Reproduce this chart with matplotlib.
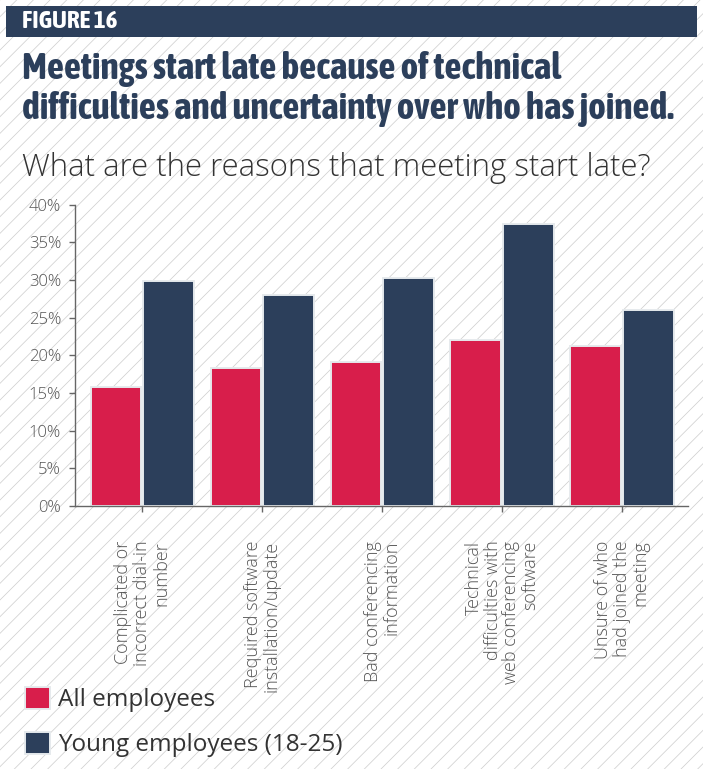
import matplotlib
matplotlib.use("Agg")
import matplotlib.pyplot as plt
from matplotlib.patches import Rectangle
from matplotlib import font_manager as fm
from matplotlib import patheffects as pe
import numpy as np

plt.rcParams['hatch.linewidth'] = 0.55
plt.rcParams['hatch.color'] = '#d0d0d0'

categories = [
    "Complicated or\nincorrect dial-in\nnumber",
    "Required software\ninstallation/update",
    "Bad conferencing\ninformation",
    "Technical\ndifficulties with\nweb conferencing\nsoftware",
    "Unsure of who\nhad joined the\nmeeting",
]
all_employees = [15.8, 18.3, 19.1, 22.0, 21.3]
young_employees = [29.9, 28.0, 30.3, 37.4, 26.0]
series_names = ["All employees", "Young employees (18-25)"]
yticks = [0, 5, 10, 15, 20, 25, 30, 35, 40]
title_lines = ["Meetings start late because of technical",
               "difficulties and uncertainty over who has joined."]
subtitle = "What are the reasons that meeting start late?"

RED = '#d81e4b'
NAVY = '#2c3f5b'
GREY = '#555555'


def wnum(w):
    if isinstance(w, (int, float)):
        return w
    return {'bold': 700, 'semibold': 600, 'demibold': 600, 'heavy': 800,
            'black': 900, 'medium': 500}.get(str(w), 400)


# choose a narrow (preferably bold) font if one is installed
narrow = None
bold_found = False
cands = [f for f in fm.fontManager.ttflist if ('Condensed' in f.name or 'Narrow' in f.name)]
bold_c = [f for f in cands if wnum(f.weight) >= 600]
if bold_c:
    narrow = dict(family=bold_c[0].name, stretch='normal')
    bold_found = True
elif cands:
    narrow = dict(family=cands[0].name, stretch='normal')
if narrow is None:
    dv = [f for f in fm.fontManager.ttflist if f.name == 'DejaVu Sans'
          and str(f.stretch) in ('condensed', 'semi-condensed')]
    if dv:
        narrow = dict(family='DejaVu Sans', stretch='condensed')
        bold_found = True
if narrow is None:
    narrow = dict(family='Lato', stretch='normal')
    bold_found = True

W, H = 703, 769
fig = plt.figure(figsize=(W / 100, H / 100), dpi=100)
fig.patch.set_facecolor('white')
renderer = fig.canvas.get_renderer()

bg = Rectangle((0, 0), 1, 1, transform=fig.transFigure, facecolor='white',
               edgecolor='#d0d0d0', hatch='//', linewidth=0, zorder=-10)
fig.patches.append(bg)

hdr = Rectangle((6 / W, 1 - 37 / H), (697 - 6) / W, 31 / H, transform=fig.transFigure,
                facecolor=NAVY, edgecolor='none', zorder=1)
fig.patches.append(hdr)


def fit_text(x, y, s, target_w, size, **kw):
    t = fig.text(x, y, s, fontsize=size, **kw)
    w = t.get_window_extent(renderer).width
    t.set_fontsize(size * target_w / w)
    return t


title_fx = [] if bold_found else [pe.withStroke(linewidth=1.3, foreground=NAVY)]
hdr_fx = [] if bold_found else [pe.withStroke(linewidth=0.9, foreground='white')]

fit_text(22 / W, 1 - 28 / H, "FIGURE 16", 95, 13.5, color='white', fontweight='bold',
         va='baseline', ha='left', zorder=2, path_effects=hdr_fx, **narrow)

t1 = fit_text(22 / W, 1 - 119 / H, title_lines[1], 654, 22.5, color=NAVY, fontweight='bold',
              va='baseline', ha='left', path_effects=title_fx, **narrow)
fig.text(22 / W, 1 - 79 / H, title_lines[0], color=NAVY, fontweight='bold',
         fontsize=t1.get_fontsize(), va='baseline', ha='left', path_effects=title_fx, **narrow)

fit_text(22 / W, 1 - 176 / H, subtitle, 628, 22, color='#333333', fontweight='light',
         family='Open Sans', va='baseline', ha='left')

ax = fig.add_axes([75 / W, 1 - 506 / H, (688 - 75) / W, (506 - 204.7) / H])
ax.set_facecolor('none')
x = np.arange(len(categories))
bw = 0.42
b1 = ax.bar(x - 0.22, all_employees, bw, color=RED, edgecolor='#e6eaed', linewidth=1.4, label=series_names[0])
b2 = ax.bar(x + 0.22, young_employees, bw, color=NAVY, edgecolor='#e6eaed', linewidth=1.4, label=series_names[1])
ax.set_xlim(-0.56, 4.55)
ax.set_ylim(0, 40)
ax.set_yticks(yticks)
ax.set_yticklabels([f"{v}%" for v in yticks])
ax.set_xticks(x)
ax.set_xticklabels(categories, rotation=90, ha='center', va='top', multialignment='right')
for s in ['top', 'right']:
    ax.spines[s].set_visible(False)
for s in ['left', 'bottom']:
    ax.spines[s].set_color('#666666')
    ax.spines[s].set_linewidth(1.0)
ax.tick_params(axis='y', length=4, width=1.0, color='#666666', pad=6,
               labelsize=12, labelcolor=GREY)
ax.tick_params(axis='x', length=4, width=1.0, color='#666666', pad=21,
               labelsize=13, labelcolor=GREY)
for lab in ax.get_xticklabels() + ax.get_yticklabels():
    lab.set_family('Open Sans')
    lab.set_fontweight('light')
for lab in ax.get_xticklabels():
    lab.set_linespacing(1.05)

leg = fig.legend(handles=[b1, b2], labels=series_names, loc='upper left',
                 bbox_to_anchor=(15 / W, 1 - 677 / H), frameon=False,
                 prop={'family': 'Open Sans', 'size': 17.5},
                 handlelength=1.05, handleheight=1.05, handletextpad=0.3,
                 labelspacing=0.8, borderaxespad=0)
for t in leg.get_texts():
    t.set_color('#333333')
for h in leg.legend_handles:
    h.set_edgecolor('#e6eaed')

fig.savefig('out.png', dpi=100, facecolor=fig.get_facecolor())
